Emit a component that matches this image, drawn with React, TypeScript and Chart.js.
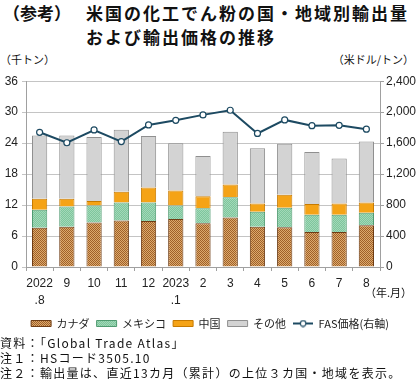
import React, { useEffect, useRef } from 'react';
import { Chart, registerables } from 'chart.js';
Chart.register(...registerables);

const categories: (string | string[])[] = [['2022', '.8'], '9', '10', '11', '12', ['2023', '.1'], '2', '3', '4', '5', '6', '7', '8'];
const canada = [7.6, 7.8, 8.6, 9.0, 8.9, 9.3, 8.5, 9.6, 7.8, 7.7, 6.8, 6.8, 8.1];
const mexico = [3.5, 3.9, 3.3, 3.5, 3.6, 2.6, 2.9, 3.9, 2.9, 3.8, 3.3, 3.3, 2.4];
const china = [2.1, 1.5, 0.9, 2.1, 2.9, 2.9, 2.3, 2.5, 1.6, 2.5, 2.1, 2.2, 2.0];
const others = [12.3, 12.3, 12.4, 12.0, 10.0, 9.2, 7.8, 10.2, 10.7, 9.9, 10.1, 8.7, 11.8];
const fasPrice = [1740, 1605, 1770, 1620, 1835, 1895, 1965, 2025, 1725, 1900, 1825, 1830, 1780];
const seriesNames = ['カナダ', 'メキシコ', '中国', 'その他', 'FAS価格(右軸)'];

const LINE_COLOR = '#1d4a62';

function makePattern(a: string, b: string, cell: number): CanvasPattern | string {
  const c = document.createElement('canvas');
  c.width = cell * 2;
  c.height = cell * 2;
  const g = c.getContext('2d');
  if (!g) return a;
  g.fillStyle = a;
  g.fillRect(0, 0, cell * 2, cell * 2);
  g.fillStyle = b;
  g.fillRect(0, 0, cell, cell);
  g.fillRect(cell, cell, cell, cell);
  const p = g.createPattern(c, 'repeat');
  return p || a;
}

function makeLineIcon(): HTMLCanvasElement {
  const c = document.createElement('canvas');
  c.width = 20;
  c.height = 8;
  const g = c.getContext('2d')!;
  g.strokeStyle = LINE_COLOR;
  g.lineWidth = 2;
  g.beginPath();
  g.moveTo(0, 4);
  g.lineTo(20, 4);
  g.stroke();
  g.beginPath();
  g.arc(10, 4, 2.8, 0, Math.PI * 2);
  g.fillStyle = '#fff';
  g.fill();
  g.lineWidth = 1.2;
  g.stroke();
  return c;
}

export default function App() {
  const ref = useRef<HTMLCanvasElement>(null);
  useEffect(() => {
    if (!ref.current) return;
    const canadaFill = makePattern('#dcaa6c', '#a0602a', 1);
    const mexicoFill = makePattern('#7ec69d', '#a2d8b8', 1);
    const lineIcon = makeLineIcon();
    const fills = [canadaFill, mexicoFill, '#f5a316', '#d3d3d3'];
    const borders = ['#6e3c14', '#4f9a70', '#c67a00', '#8f8f8f'];
    const barData = [canada, mexico, china, others];
    const tickFont = { family: "'Liberation Sans', Arial, sans-serif", size: 12 };
    const chart = new Chart(ref.current, {
      type: 'bar',
      data: {
        labels: categories,
        datasets: [
          ...barData.map((d, i) => ({
            type: 'bar' as const,
            label: seriesNames[i],
            data: d,
            backgroundColor: fills[i] as any,
            borderColor: borders[i],
            borderWidth: 1,
            yAxisID: 'y',
            stack: 's',
            order: 1,
            barPercentage: 0.56,
            categoryPercentage: 1,
          })),
          {
            type: 'line' as const,
            label: seriesNames[4],
            data: fasPrice,
            borderColor: LINE_COLOR,
            borderWidth: 2,
            pointRadius: 3,
            pointBackgroundColor: '#fff',
            pointBorderColor: LINE_COLOR,
            pointBorderWidth: 1.2,
            yAxisID: 'y1',
            order: 0,
            tension: 0,
          } as any,
        ],
      },
      options: {
        animation: false,
        responsive: false,
        layout: { padding: { top: 9, bottom: 4, left: 0, right: 0 } },
        scales: {
          x: {
            stacked: true,
            offset: true,
            grid: { display: true, drawOnChartArea: false, drawTicks: true, tickLength: 4, color: '#a0a0a0', offset: true },
            border: { color: '#a0a0a0' },
            ticks: { font: { ...tickFont, lineHeight: 1.4 }, color: '#222', maxRotation: 0, autoSkip: false, padding: 4 },
            afterFit: (s: any) => { s.height = 44; },
          },
          y: {
            stacked: true,
            position: 'left',
            min: 0,
            max: 36,
            grid: { color: '#c4c4c4', tickLength: 4 },
            border: { color: '#a0a0a0' },
            ticks: { stepSize: 6, font: tickFont, color: '#222', padding: 4 },
            afterFit: (s: any) => { s.width = 26; },
          },
          y1: {
            position: 'right',
            min: 0,
            max: 2400,
            grid: { drawOnChartArea: false, tickLength: 4, color: '#a0a0a0' },
            border: { color: '#a0a0a0' },
            ticks: { stepSize: 400, font: tickFont, color: '#222', padding: 2 },
            afterFit: (s: any) => { s.width = 40; },
          },
        },
        plugins: {
          tooltip: { enabled: false },
          legend: {
            position: 'bottom',
            labels: {
              usePointStyle: true,
              pointStyleWidth: 20,
              boxHeight: 6,
              padding: 7,
              font: { family: "'Noto Sans CJK JP', sans-serif", size: 11 },
              color: '#222',
              generateLabels: () =>
                seriesNames.map((name, i) => ({
                  text: name,
                  fillStyle: i < 4 ? (fills[i] as any) : '#fff',
                  strokeStyle: i < 4 ? borders[i] : LINE_COLOR,
                  lineWidth: 1,
                  pointStyle: i < 4 ? 'rect' : (lineIcon as any),
                  datasetIndex: i,
                  hidden: false,
                  fontColor: '#222',
                })),
            },
          },
        },
      },
    });
    return () => chart.destroy();
  }, []);

  const jp = "'Noto Sans CJK JP', sans-serif";
  return (
    <div style={{ position: 'fixed', left: 0, top: 0, width: 420, height: 381, background: '#fff', fontFamily: jp, color: '#111', overflow: 'hidden' }}>
      <div style={{ position: 'absolute', left: 3, top: 1, fontSize: 17, fontWeight: 700, lineHeight: '24px', whiteSpace: 'nowrap' }}>（参考）</div>
      <div style={{ position: 'absolute', left: 86, top: 1, fontSize: 17, fontWeight: 700, lineHeight: '24px', letterSpacing: 2, whiteSpace: 'nowrap' }}>米国の化工でん粉の国・地域別輸出量</div>
      <div style={{ position: 'absolute', left: 86, top: 25, fontSize: 17, fontWeight: 700, lineHeight: '24px', letterSpacing: 2, whiteSpace: 'nowrap' }}>および輸出価格の推移</div>
      <div style={{ position: 'absolute', left: 0, top: 52, fontSize: 11, lineHeight: '14px', whiteSpace: 'nowrap' }}>（千トン）</div>
      <div style={{ position: 'absolute', right: 6, top: 52, fontSize: 11, lineHeight: '14px', whiteSpace: 'nowrap' }}>（米ドル/トン）</div>
      <canvas ref={ref} width={420} height={273} style={{ position: 'absolute', left: 0, top: 70, width: 420, height: 273 }} />
      <div style={{ position: 'absolute', right: 8, top: 285, fontSize: 11, lineHeight: '14px', whiteSpace: 'nowrap' }}>（年.月）</div>
      <div style={{ position: 'absolute', left: 0, top: 335, fontSize: 12, lineHeight: '15px', letterSpacing: 1.3, whiteSpace: 'nowrap' }}>
        <div>資料：「Global Trade Atlas」</div>
        <div>注１：HSコード3505.10</div>
        <div>注２：輸出量は、直近13カ月（累計）の上位３カ国・地域を表示。</div>
      </div>
    </div>
  );
}
